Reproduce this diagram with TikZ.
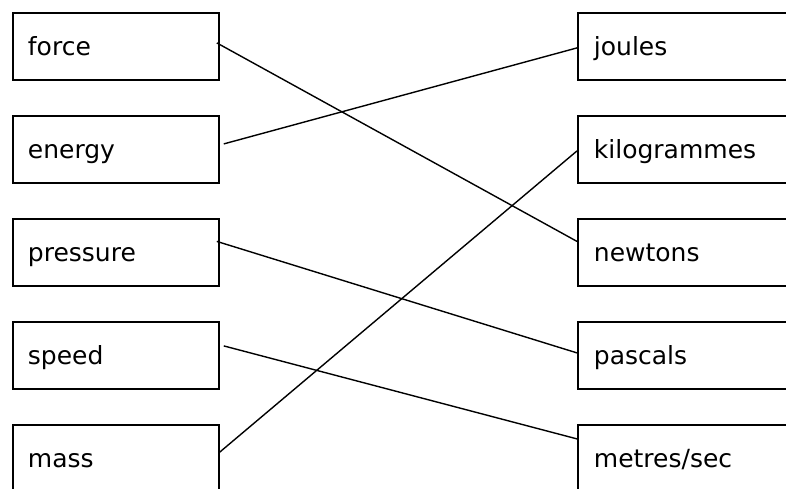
\documentclass[tikz,border=0pt]{standalone}
\usepackage{fontspec}
\setmainfont{DejaVu Sans}
\usetikzlibrary{calc}
\begin{document}
\begin{tikzpicture}[x=1pt,y=-1pt,
  wordbox/.style={draw=black,line width=1.8pt,anchor=north west,
    minimum width=206pt,minimum height=67pt,inner xsep=15pt,inner ysep=0pt,
    text width=176pt,align=left,text height=21pt,text depth=3pt,
    font=\fontsize{25}{29}\selectfont},
  unitbox/.style={wordbox,minimum width=230pt,inner xsep=16pt,text width=198pt},
  link/.style={draw=black,line width=1.4pt}]
\useasboundingbox (0,0) rectangle (786,488);
\clip (0,0) rectangle (786,488);
% left column
\node[wordbox] (force) at (12,12) {force};
\node[wordbox] (energy) at (12,115) {energy};
\node[wordbox] (pressure) at (12,218) {pressure};
\node[wordbox] (speed) at (12,321) {speed};
\node[wordbox] (mass) at (12,424) {mass};
% right column
\node[unitbox] (joules) at (577,12) {joules};
\node[unitbox] (kilo) at (577,115) {kilogrammes};
\node[unitbox] (newtons) at (577,218) {newtons};
\node[unitbox] (pascals) at (577,321) {pascals};
\node[unitbox] (metres) at (577,424) {metres/sec};
% connector ends
\coordinate (fS) at ($(force.east)+(-3,-3.5)$);
\coordinate (nE) at ($(newtons.west)+(0,-11)$);
\coordinate (eS) at ($(energy.east)+(4,-5.5)$);
\coordinate (jE) at ($(joules.west)+(0,1.5)$);
\coordinate (pS) at ($(pressure.east)+(-3,-11)$);
\coordinate (paE) at ($(pascals.west)+(0,-2.5)$);
\coordinate (sS) at ($(speed.east)+(4,-9.5)$);
\coordinate (mE) at ($(metres.west)+(0,-19.5)$);
\coordinate (maS) at ($(mass.east)+(-1,-5.5)$);
\coordinate (kE) at ($(kilo.west)+(0,1.5)$);
\draw[link] (fS) -- (nE);
\draw[link] (eS) -- (jE);
\draw[link] (pS) -- (paE);
\draw[link] (sS) -- (mE);
\draw[link] (maS) -- (kE);
\end{tikzpicture}
\end{document}
